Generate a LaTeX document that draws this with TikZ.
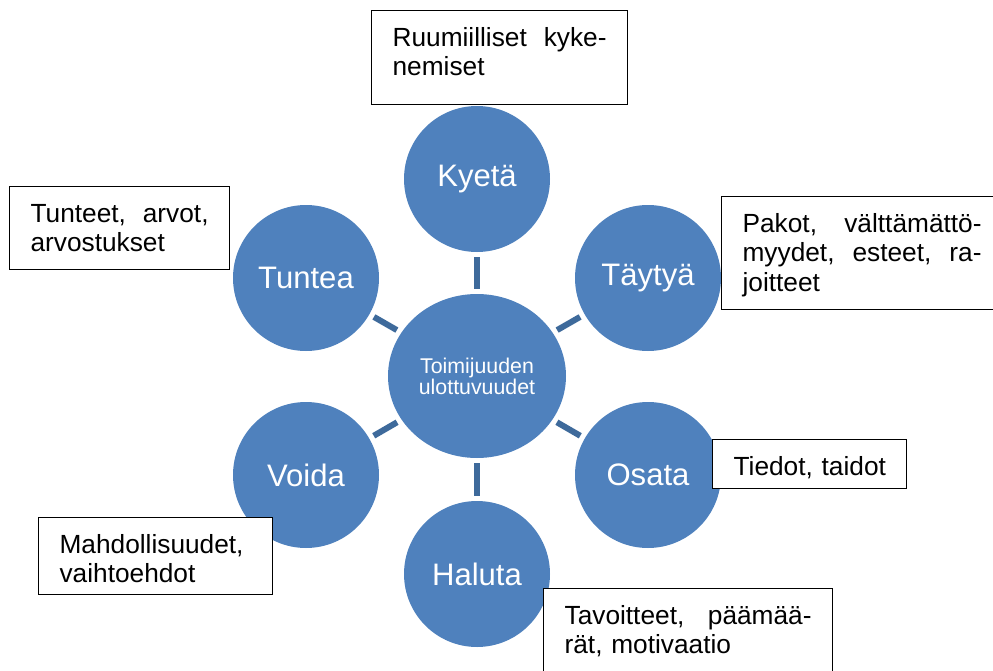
\documentclass[tikz,border=0pt]{standalone}
\usepackage{fontspec}
\setmainfont{Liberation Sans}
\usetikzlibrary{shapes.geometric}
\definecolor{circblue}{HTML}{4F81BD}
\definecolor{connblue}{HTML}{3E6A9B}
\begin{document}
\begin{tikzpicture}[x=0.75pt,y=-0.75pt,
  sat/.style={circle, fill=circblue, text=white, minimum size=109.5pt, inner sep=0pt,
              font=\fontsize{23.3pt}{28pt}\selectfont},
  hub/.style={ellipse, fill=circblue, text=white, minimum width=133.5pt, minimum height=123pt,
              inner sep=0pt, align=center, font=\fontsize{16pt}{15.8pt}\selectfont},
  conn/.style={draw=connblue, line width=4.5pt, shorten <=3.75pt, shorten >=3.75pt},
  infobox/.style={draw=black, line width=0.9pt, fill=white, anchor=north west,
              inner xsep=15.75pt, inner ysep=0pt, text height=26.6pt,
              font=\fontsize{19.7pt}{22.3pt}\selectfont}]
\useasboundingbox (0,0) rectangle (993,671);
\clip (0,0) rectangle (993,671);

% circles
\node[hub] (c) at (477,376) {Toimijuuden\\ulottuvuudet};
\node[sat] (k) at (477,179) {Kyetä};
\node[sat] (t) at (648,278) {Täytyä};
\node[sat] (o) at (648,475) {Osata};
\node[sat] (h) at (477,574) {Haluta};
\node[sat] (v) at (306,475) {Voida};
\node[sat] (u) at (306,278) {Tuntea};

% connectors
\draw[conn] (c) -- (k);
\draw[conn] (c) -- (t);
\draw[conn] (c) -- (o);
\draw[conn] (c) -- (h);
\draw[conn] (c) -- (v);
\draw[conn] (c) -- (u);

% boxes
\node[infobox, text width=160.5pt, text depth=43.9pt] (b1) at (371,10)
  {Ruumiilliset\hfill kyke-\\nemiset};
\node[infobox, text width=133.5pt, text depth=35.65pt] (b2) at (9,186)
  {Tunteet,\hfill arvot,\\arvostukset};
\node[infobox, text width=179.25pt, text depth=58.15pt] (b3) at (721,196)
  {Pakot,\hfill välttämättö-\\myydet,\hfill esteet,\hfill ra-\\joitteet};
\node[infobox, text width=114pt, text depth=10.15pt] (b4) at (712,439)
  {\mbox{Tiedot, taidot}};
\node[infobox, text width=144pt, text depth=31.15pt] (b5) at (38,517)
  {Mahdollisuudet,\\vaihtoehdot};
\node[infobox, text width=185.25pt, text depth=48.4pt] (b6) at (543,588)
  {Tavoitteet,\hfill päämää-\\rät, motivaatio};
\end{tikzpicture}
\end{document}
